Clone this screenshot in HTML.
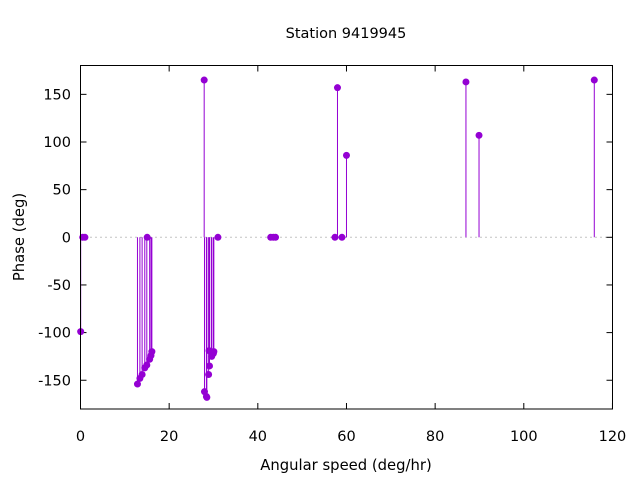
<!DOCTYPE html>
<html><head><style>body{margin:0;background:#fff}svg{display:block;font-family:"DejaVu Sans","Liberation Sans",sans-serif}</style></head>
<body>
<svg id="s" width="640" height="480" xmlns="http://www.w3.org/2000/svg">
<rect width="640" height="480" fill="#fff"/>
<text x="346" y="38" font-size="14.5" text-anchor="middle">Station 9419945</text>
<text x="346" y="470" font-size="14.8" text-anchor="middle">Angular speed (deg/hr)</text>
<text transform="translate(24,237) rotate(-90)" font-size="14.8" text-anchor="middle">Phase (deg)</text>
<line x1="80.5" y1="237.3" x2="612.5" y2="237.3" stroke="#888" stroke-dasharray="1,4"/>
<g id="g"></g>
<rect x="80.5" y="65.5" width="532" height="343.5" fill="none" stroke="#000"/>
</svg>
<script>
var g=document.getElementById('g'),h='';
function X(v){return 80.5+v*4.433}function Y(v){return 237.3-v*0.953}
for(var i=0;i<=6;i++){var x=X(i*20);h+='<line x1="'+x+'" y1="409" x2="'+x+'" y2="403" stroke="#000"/><line x1="'+x+'" y1="65.5" x2="'+x+'" y2="71.5" stroke="#000"/><text x="'+x+'" y="441" font-size="14.5" text-anchor="middle">'+(i*20)+'</text>';}
for(var v=-150;v<=150;v+=50){var y=Y(v);h+='<line x1="80.5" y1="'+y+'" x2="86.5" y2="'+y+'" stroke="#000"/><line x1="612.5" y1="'+y+'" x2="606.5" y2="'+y+'" stroke="#000"/><text x="71" y="'+(y+5)+'" font-size="14.5" text-anchor="end">'+v+'</text>';}
var d=[[0.04,-99],[0.5,0],[1.0,0],[12.85,-154],[13.4,-148],[13.9,-144],[14.5,-137],[14.96,-134],[15.04,0],[15.6,-128],[15.9,-124],[16.1,-120],
[27.9,165],[27.97,-162],[28.4,-167],[28.5,-168],[28.9,-144],[29.0,-119],[29.1,-135],[29.5,-120],[29.6,-125],[29.96,-122],[30.08,-120],[31.0,0],
[42.9,0],[43.5,0],[44.0,0],[57.4,0],[57.97,157],[58.98,0],[60.0,86],[86.95,163],[89.9,107],[115.9,165]];
d.forEach(function(p){var x=X(p[0]),y=Y(p[1]);h+='<line x1="'+x+'" y1="237.3" x2="'+x+'" y2="'+y+'" stroke="#9400d3" stroke-width="1"/><circle cx="'+x+'" cy="'+y+'" r="3.5" fill="#9400d3"/>';});
g.innerHTML=h;
</script>
</body></html>
